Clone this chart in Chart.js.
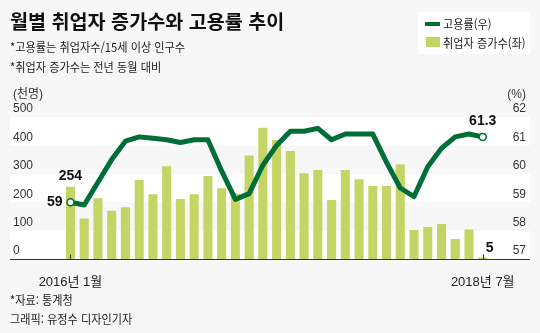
<!DOCTYPE html>
<html lang="ko">
<head>
<meta charset="utf-8">
<script src="https://cdn.jsdelivr.net/npm/chart.js@4.4.1/dist/chart.umd.min.js"></script>
<style>
  html, body { margin: 0; padding: 0; background: #f7f7f7; }
  #wrap { position: relative; width: 540px; height: 333px; overflow: hidden; font-family: "Noto Sans CJK KR", sans-serif; color: #1a1a1a; }
  #wrap canvas { position: absolute; left: 0; top: 0; }
  .txt { position: absolute; white-space: nowrap; line-height: 1; transform-origin: 0 0; }
  .title { font-size: 19.6px; font-weight: bold; color: #111; }
  .note { font-size: 12px; color: #222; transform: scaleX(0.93); }
  .unit { font-size: 12px; color: #333; font-family: "Liberation Sans Narrow", "Liberation Sans", "Noto Sans CJK KR", sans-serif; }
  #legend { position: absolute; left: 418px; top: 12px; width: 112px; height: 42px; background: #fff; }
  .sw-line { position: absolute; left: 7px; top: 10px; width: 15px; height: 4px; background: #006e36; }
  .sw-bar { position: absolute; left: 8px; top: 25px; width: 14px; height: 10px; background: #c4d565; }
</style>
</head>
<body>
<div id="wrap">
  <canvas id="jobsChart" width="540" height="333"></canvas>
  <div class="txt title" style="left:10px; top:11px;">월별 취업자 증가수와 고용률 추이</div>
  <div class="txt note" style="left:10px; top:41px;">*고용률는 취업자수/15세 이상 인구수</div>
  <div class="txt note" style="left:10px; top:61px;">*취업자 증가수는 전년 동월 대비</div>
  <div class="txt unit" style="left:13px; top:88px;">(천명)</div>
  <div class="txt unit" style="right:14px; top:88px;">(%)</div>
  <div id="legend">
    <div class="sw-line"></div>
    <div class="txt note" style="left:25px; top:6px;">고용률(우)</div>
    <div class="sw-bar"></div>
    <div class="txt note" style="left:25px; top:25px;">취업자 증가수(좌)</div>
  </div>
  <div class="txt note" style="left:10px; top:294px;">*자료: 통계청</div>
  <div class="txt note" style="left:10px; top:313px;">그래픽: 유정수 디자인기자</div>
</div>
<script>
const months = [
    '2016년 1월', '2016년 2월', '2016년 3월', '2016년 4월', '2016년 5월', '2016년 6월',
    '2016년 7월', '2016년 8월', '2016년 9월', '2016년 10월', '2016년 11월', '2016년 12월',
    '2017년 1월', '2017년 2월', '2017년 3월', '2017년 4월', '2017년 5월', '2017년 6월',
    '2017년 7월', '2017년 8월', '2017년 9월', '2017년 10월', '2017년 11월', '2017년 12월',
    '2018년 1월', '2018년 2월', '2018년 3월', '2018년 4월', '2018년 5월', '2018년 6월',
    '2018년 7월'
];
// 취업자 증가수 (천명)
const jobGain = [254, 143, 214, 170, 182, 278, 228, 327, 211, 228, 292, 249,
                 231, 364, 462, 419, 380, 302, 313, 208, 313, 281, 257, 257,
                 334, 102, 113, 123, 70, 104, 5];
// 고용률 (%)
const empRate = [59, 58.9, 59.7, 60.5, 61.15, 61.3, 61.25, 61.2, 61.1, 61.2, 61.2, 60.1,
                 59.1, 59.3, 60.3, 61.0, 61.5, 61.5, 61.6, 61.2, 61.4, 61.4, 61.4, 60.4,
                 59.5, 59.2, 60.25, 60.9, 61.3, 61.4, 61.3];
const xTickLabels = ['2016년 1월', '2018년 7월'];
const leftTicks = [0, 100, 200, 300, 400, 500];
const rightTicks = [57, 58, 59, 60, 61, 62];

const GREEN = '#006e36';
const LIME = '#c4d565';
const numFont = '"Liberation Sans Narrow", "Liberation Sans", "Noto Sans CJK KR", sans-serif';

const decor = {
    id: 'decor',
    beforeDraw(chart) {
        const { ctx, scales } = chart;
        const y = scales.y;
        ctx.save();
        ctx.fillStyle = '#ffffff';
        for (let i = 0; i < leftTicks.length - 1; i += 2) {
            const top = y.getPixelForValue(leftTicks[i + 1]);
            const bottom = y.getPixelForValue(leftTicks[i]);
            ctx.fillRect(10, top, 520, bottom - top);
        }
        ctx.restore();
    },
    afterDatasetsDraw(chart) {
        const { ctx, chartArea, scales } = chart;
        const base = Math.round(chartArea.bottom) + 0.5;
        ctx.save();
        // axis line + small ticks
        ctx.strokeStyle = '#333';
        ctx.lineWidth = 1;
        ctx.beginPath();
        ctx.moveTo(10, base);
        ctx.lineTo(530, base);
        xTickLabels.forEach(l => {
            const px = Math.round(scales.x.getPixelForValue(months.indexOf(l))) + 0.5;
            ctx.moveTo(px, base - 5);
            ctx.lineTo(px, base);
        });
        ctx.stroke();

        // value labels
        const bars = chart.getDatasetMeta(1).data;
        const pts = chart.getDatasetMeta(0).data;
        const last = months.length - 1;
        ctx.fillStyle = '#111';
        ctx.font = 'bold 14px ' + numFont;

        ctx.textAlign = 'center';
        ctx.textBaseline = 'bottom';
        ctx.fillText(String(jobGain[0]), bars[0].x, bars[0].y - 4);
        ctx.fillText(String(empRate[last]), pts[last].x, pts[last].y - 9);

        ctx.textAlign = 'left';
        ctx.fillText(String(jobGain[last]), bars[last].x + 3, bars[last].y - 2);

        ctx.textAlign = 'right';
        ctx.textBaseline = 'middle';
        ctx.fillText(String(empRate[0]), pts[0].x - 8, pts[0].y);
        ctx.restore();
    }
};

const ctx = document.getElementById('jobsChart').getContext('2d');
const jobsChart = new Chart(ctx, {
    type: 'bar',
    data: {
        labels: months,
        datasets: [{
            type: 'line',
            label: '고용률(우)',
            data: empRate,
            yAxisID: 'y2',
            borderColor: GREEN,
            borderWidth: 5,
            borderJoinStyle: 'round',
            tension: 0,
            pointRadius: c => (c.dataIndex === 0 || c.dataIndex === months.length - 1) ? 3.5 : 0,
            pointBackgroundColor: '#fff',
            pointBorderColor: GREEN,
            pointBorderWidth: 1.5
        }, {
            label: '취업자 증가수(좌)',
            data: jobGain,
            yAxisID: 'y',
            backgroundColor: LIME,
            categoryPercentage: 1,
            barPercentage: 0.66
        }]
    },
    options: {
        responsive: false,
        animation: false,
        layout: { padding: { top: 117, bottom: 44, left: 13, right: 14 } },
        plugins: { legend: { display: false }, tooltip: { enabled: false } },
        scales: {
            x: {
                grid: { display: false },
                border: { display: false },
                ticks: {
                    autoSkip: false,
                    maxRotation: 0,
                    padding: 8,
                    color: '#222',
                    font: { family: numFont, size: 13 },
                    callback: function (v, i) {
                        const l = months[i];
                        return xTickLabels.includes(l) ? l : '';
                    }
                },
                afterFit: s => { s.height = 30; }
            },
            y: {
                position: 'left',
                min: 0,
                max: 500,
                grid: { display: false },
                border: { display: false },
                afterBuildTicks: s => { s.ticks = leftTicks.map(v => ({ value: v })); },
                ticks: {
                    crossAlign: 'far',
                    labelOffset: -8,
                    color: '#333',
                    font: { family: numFont, size: 12 }
                },
                afterFit: s => { s.width = 50.6; }
            },
            y2: {
                position: 'right',
                min: 57,
                max: 62,
                grid: { display: false },
                border: { display: false },
                afterBuildTicks: s => { s.ticks = rightTicks.map(v => ({ value: v })); },
                ticks: {
                    crossAlign: 'far',
                    labelOffset: -8,
                    color: '#333',
                    font: { family: numFont, size: 12 }
                },
                afterFit: s => { s.width = 36.4; }
            }
        }
    },
    plugins: [decor]
});
</script>
</body>
</html>
